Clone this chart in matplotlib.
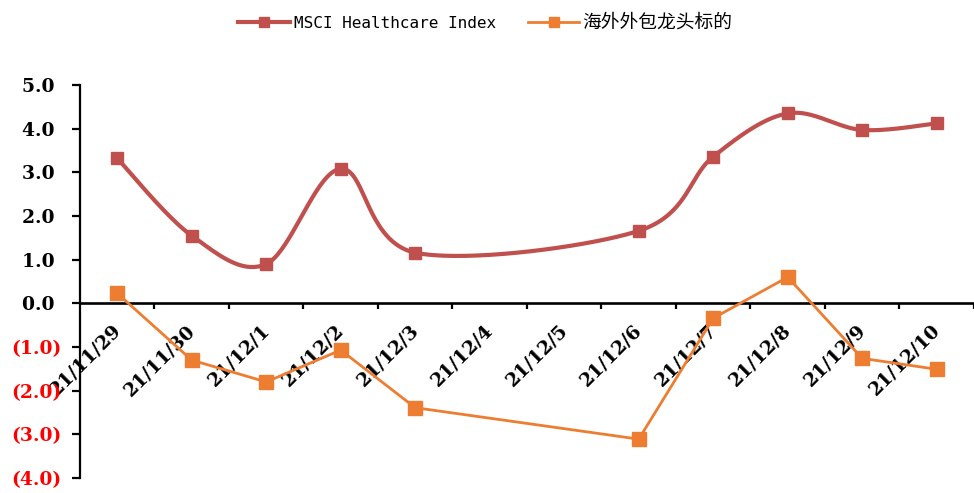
import numpy as np
import matplotlib
matplotlib.use("Agg")
import matplotlib.pyplot as plt
from matplotlib.lines import Line2D
from matplotlib.ticker import FixedLocator, FuncFormatter
from matplotlib.transforms import ScaledTranslation

# ---- data -------------------------------------------------------------
dates = ["21/11/29", "21/11/30", "21/12/1", "21/12/2", "21/12/3", "21/12/4",
         "21/12/5", "21/12/6", "21/12/7", "21/12/8", "21/12/9", "21/12/10"]
msci = [3.32, 1.55, 0.90, 3.08, 1.16, None, None, 1.66, 3.36, 4.35, 3.97, 4.12]
outsourcing = [0.23, -1.30, -1.80, -1.07, -2.39, None, None, -3.11, -0.34, 0.60, -1.26, -1.51]
series_names = ["MSCI Healthcare Index", "海外外包龙头标的"]
y_ticks = [-4, -3, -2, -1, 0, 1, 2, 3, 4, 5]

RED = "#C0504D"
ORANGE = "#ED7D31"


def valid_points(values):
    xs = np.array([i for i, v in enumerate(values) if v is not None], float)
    ys = np.array([v for v in values if v is not None], float)
    return xs, ys


def smooth_curve(xs, ys, samples=40):
    """Piecewise cubic Bezier through the points (spreadsheet-style smoothing)."""
    pts = np.column_stack([xs, ys])
    n = len(pts)
    out = [pts[:1]]
    t = np.linspace(0, 1, samples)[1:, None]
    for i in range(n - 1):
        p0 = pts[i]
        p1 = pts[i + 1]
        pm = pts[i - 1] if i > 0 else pts[i]
        pp = pts[i + 2] if i + 2 < n else pts[i + 1]
        c1 = p0 + (p1 - pm) / 6.0
        c2 = p1 - (pp - p0) / 6.0
        seg = ((1 - t) ** 3) * p0 + 3 * ((1 - t) ** 2) * t * c1 \
            + 3 * (1 - t) * t ** 2 * c2 + t ** 3 * p1
        out.append(seg)
    curve = np.vstack(out)
    return curve[:, 0], curve[:, 1]


fig = plt.figure(figsize=(9.74, 4.93), dpi=100)
ax = fig.add_axes([0.0821, 0.0304, 0.9179, 0.7972])

# MSCI: smoothed line with square markers
mx, my = valid_points(msci)
cx, cy = smooth_curve(mx, my)
ax.plot(cx, cy, color=RED, lw=3.0, solid_capstyle="round", zorder=3)
ax.plot(mx, my, ls="none", marker="s", ms=9, color=RED, zorder=4)

# Outsourcing leaders: straight segments with square markers
ox, oy = valid_points(outsourcing)
ax.plot(ox, oy, color=ORANGE, lw=2.0, marker="s", ms=10.5, zorder=3)

# ---- axes -------------------------------------------------------------
ax.set_xlim(-0.5, len(dates) - 0.5)
ax.set_ylim(-4, 5)

for side in ("top", "right"):
    ax.spines[side].set_visible(False)
ax.spines["bottom"].set_position(("data", 0))
ax.spines["bottom"].set_linewidth(1.9)
ax.spines["left"].set_linewidth(1.6)

ax.set_xticks(range(len(dates)))
ax.set_xticklabels(dates)
ax.xaxis.set_minor_locator(FixedLocator(np.arange(0.5, len(dates), 1.0)))
ax.tick_params(axis="x", which="major", length=0, pad=13)
ax.tick_params(axis="x", which="minor", direction="out", length=4.5, width=1.6)

for lbl in ax.get_xticklabels():
    lbl.set_rotation(45)
    lbl.set_ha("right")
    lbl.set_va("top")
    lbl.set_fontfamily("DejaVu Serif")
    lbl.set_fontweight("bold")
    lbl.set_fontsize(13.5)
    lbl.set_transform(lbl.get_transform() + ScaledTranslation(7 / 100, 0, fig.dpi_scale_trans))


def fmt_value(v, _pos=None):
    if v < 0:
        return f"({abs(v):.1f})"
    return f"{v:.1f} "


ax.set_yticks(y_ticks)
ax.yaxis.set_major_formatter(FuncFormatter(fmt_value))
ax.tick_params(axis="y", direction="out", length=5.5, width=1.6, pad=8)
for val, lbl in zip(y_ticks, ax.get_yticklabels()):
    lbl.set_fontfamily("DejaVu Serif")
    lbl.set_fontweight("bold")
    lbl.set_fontsize(13.5)
    lbl.set_color("#FF0000" if val < 0 else "black")

# ---- legend -----------------------------------------------------------
handles = [
    Line2D([], [], color=RED, lw=3.0, marker="s", ms=7),
    Line2D([], [], color=ORANGE, lw=2.0, marker="s", ms=7.5),
]
leg = fig.legend(handles, series_names, loc="center", bbox_to_anchor=(0.4985, 0.955),
                 ncol=2, frameon=False, handlelength=3.25, handletextpad=0.2,
                 columnspacing=2.0,
                 prop={"family": ["DejaVu Sans Mono", "Noto Sans CJK SC"], "size": 11.5})
leg.get_texts()[1].set_fontfamily(["Noto Sans CJK SC", "DejaVu Sans"])
leg.get_texts()[1].set_fontsize(13.5)

fig.savefig("out.png", dpi=100)
